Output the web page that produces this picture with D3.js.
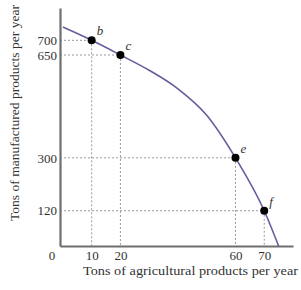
<!DOCTYPE html>
<html>
<head>
<meta charset="utf-8">
<script src="https://cdn.jsdelivr.net/npm/d3@7"></script>
<style>
  body { margin: 0; background: #fff; }
  text { font-family: "Liberation Serif", "DejaVu Serif", serif; fill: #333; }
</style>
</head>
<body>
<div id="chart"></div>
<script>
// production possibilities curve
const curveAg = [0, 10, 20, 30, 40, 50, 60, 70, 75];
const curveMan = [745, 700, 650, 598, 535, 445, 300, 120, 0];

const pointNames = ["b", "c", "e", "f"];
const pointAg = [10, 20, 60, 70];
const pointMan = [700, 650, 300, 120];

const xTicks = [10, 20, 60, 70];
const yTicks = [120, 300, 650, 700];

const w = 301;
const h = 290;

const xScale = d3.scaleLinear()
    .domain([-1, 80])
    .range([60, 293]);

const yScale = d3.scaleLinear()
    .domain([0, 810])
    .range([246, 8]);

const svg = d3.select("#chart")
    .append("svg")
    .attr("width", w)
    .attr("height", h);

// dotted guide lines
const guides = svg.append("g")
    .attr("stroke", "#999")
    .attr("stroke-width", 1)
    .attr("stroke-dasharray", "2,2");

pointAg.forEach((a, i) => {
    guides.append("line")
        .attr("x1", xScale(-1)).attr("x2", xScale(a))
        .attr("y1", yScale(pointMan[i])).attr("y2", yScale(pointMan[i]));
    guides.append("line")
        .attr("x1", xScale(a)).attr("x2", xScale(a))
        .attr("y1", yScale(pointMan[i])).attr("y2", yScale(0));
});

// axes
const xAxis = d3.axisBottom(xScale).tickValues(xTicks).tickSize(0).tickPadding(5);
const yAxis = d3.axisLeft(yScale).tickValues(yTicks).tickSize(0).tickPadding(3);

const gx = svg.append("g")
    .attr("transform", "translate(0," + yScale(0) + ")")
    .call(xAxis);
const gy = svg.append("g")
    .attr("transform", "translate(" + xScale(-1) + ",0)")
    .call(yAxis);

[gx, gy].forEach(g => {
    g.select(".domain").attr("stroke", "#6e6e6e").attr("stroke-width", 2.2);
    g.selectAll("text")
        .style("font-family", "Liberation Serif, serif")
        .style("font-size", "13px")
        .attr("fill", "#444");
});

svg.append("text")
    .text("0")
    .attr("x", xScale(-1) - 8)
    .attr("y", yScale(0) + 14)
    .style("font-size", "13px")
    .style("text-anchor", "middle")
    .attr("fill", "#555");

// the curve
const line = d3.line()
    .x((d, i) => xScale(d))
    .y((d, i) => yScale(curveMan[i]))
    .curve(d3.curveMonotoneX);

svg.append("path")
    .datum(curveAg)
    .attr("d", line)
    .attr("fill", "none")
    .attr("stroke", "#6a5b9e")
    .attr("stroke-width", 1.6);

// points and letters
svg.selectAll("circle")
    .data(pointAg)
    .enter()
    .append("circle")
    .attr("cx", d => xScale(d))
    .attr("cy", (d, i) => yScale(pointMan[i]))
    .attr("r", 4)
    .attr("fill", "#000");

svg.selectAll(".lbl")
    .data(pointNames)
    .enter()
    .append("text")
    .attr("class", "lbl")
    .text(d => d)
    .attr("x", (d, i) => xScale(pointAg[i]) + 5)
    .attr("y", (d, i) => yScale(pointMan[i]) - 5)
    .style("font-size", "13px")
    .style("font-style", "italic")
    .attr("fill", "#444");

svg.append("text")
    .text("Tons of agricultural products per year")
    .attr("x", 83)
    .attr("y", 275)
    .attr("textLength", 215)
    .attr("lengthAdjust", "spacingAndGlyphs")
    .style("font-size", "13px")
    .attr("fill", "#444");

svg.append("text")
    .text("Tons of manufactured products per year")
    .attr("transform", "rotate(-90)")
    .attr("x", -113)
    .attr("y", 19)
    .attr("textLength", 216)
    .attr("lengthAdjust", "spacingAndGlyphs")
    .style("text-anchor", "middle")
    .style("font-size", "13px")
    .attr("fill", "#444");
</script>
</body>
</html>
